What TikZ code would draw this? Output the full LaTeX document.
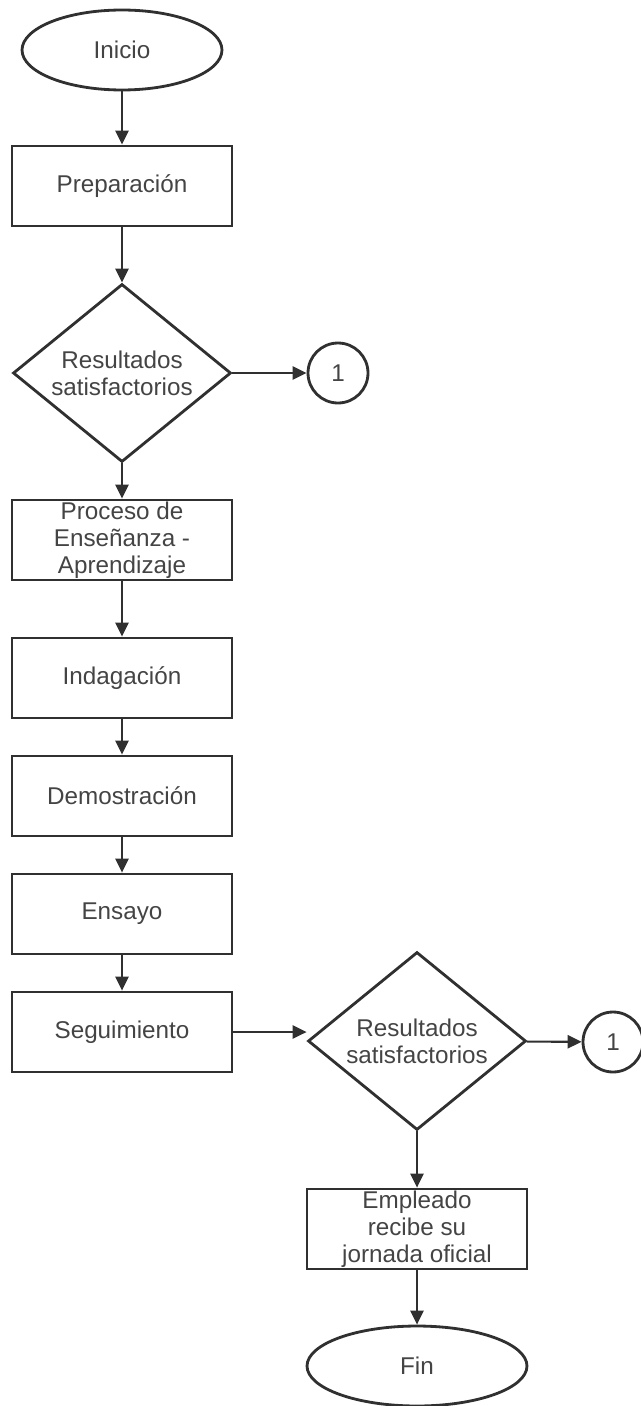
\documentclass[tikz,border=0pt]{standalone}
\usepackage{fontspec}
\setmainfont{Liberation Sans}
\usetikzlibrary{arrows.meta,shapes.geometric}

\definecolor{linegray}{HTML}{303030}
\definecolor{textgray}{HTML}{444444}

\begin{document}
\begin{tikzpicture}[
				x=0.02cm,y=-0.02cm,
				base/.style={
					draw=linegray,
					line width=1.6pt,
					align=center,
					inner sep=0pt,
					text=textgray,
					font=\fontsize{13.8}{15.4}\selectfont
				},
				terminal/.style={base,ellipse,minimum width=4cm,minimum height=1.6cm},
				process/.style={base,rectangle,minimum width=4.4cm,minimum height=1.6cm},
				decision/.style={base,diamond,aspect=1.22,minimum width=4.36cm,minimum height=3.56cm},
				connector/.style={base,circle,minimum size=1.2cm},
				flow/.style={draw=linegray,line width=1.2pt,-{Triangle[length=8pt,width=7.5pt]}}
				]
				\useasboundingbox (0,0) rectangle (640,1406);
				\node[terminal] (inicio) at (122,50) {Inicio};
				\node[process] (prep) at (122,186) {Preparación};
				\node[decision] (dec1) at (122,373) {Resultados\\satisfactorios};
				\node[connector] (con1) at (338,373) {1};
				\node[process] (proc) at (122,540) {Proceso de\\Enseñanza -\\Aprendizaje};
				\node[process] (inda) at (122,678) {Indagación};
				\node[process] (demo) at (122,796) {Demostración};
				\node[process] (ensa) at (122,914) {Ensayo};
				\node[process] (segu) at (122,1032) {Seguimiento};
				\node[decision] (dec2) at (417,1041) {Resultados\\satisfactorios};
				\node[connector] (con2) at (613,1042) {1};
				\node[process] (empl) at (417,1229) {Empleado\\recibe su\\jornada oficial};
				\node[terminal, minimum width=4.4cm] (fin) at (417,1366) {Fin};
				
				\draw[flow] (inicio) -- (prep);
				\draw[flow] (prep) -- (dec1);
				\draw[flow] (dec1) -- (con1);
				\draw[flow] (dec1) -- (proc);
				\draw[flow] (proc) -- (inda);
				\draw[flow] (inda) -- (demo);
				\draw[flow] (demo) -- (ensa);
				\draw[flow] (ensa) -- (segu);
				\draw[flow] (segu.east) -- (segu.east -| dec2.west);
				\draw[flow] (dec2) -- (con2);
				\draw[flow] (dec2) -- (empl);
				\draw[flow] (empl) -- (fin);
			\end{tikzpicture}
\end{document}
